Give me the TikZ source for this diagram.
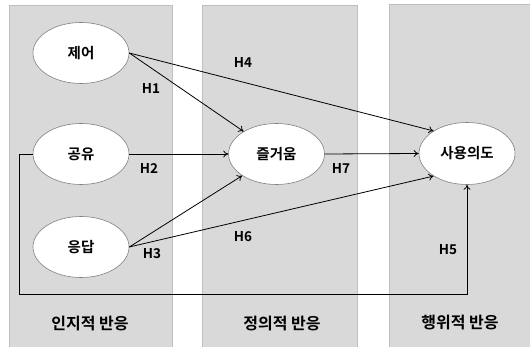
\documentclass[tikz,border=0pt]{standalone}
\usepackage{fontspec}
\setmainfont{Noto Sans CJK KR}[BoldFont={Noto Sans CJK KR Bold}]
\usetikzlibrary{shapes.geometric,arrows.meta}
\definecolor{panelfill}{HTML}{D9D9D9}
\definecolor{paneledge}{HTML}{BFBFBF}
\definecolor{elledge}{HTML}{808080}
\tikzset{
  panel/.style={fill=panelfill,draw=paneledge,line width=0.8pt},
  ell/.style={ellipse,draw=elledge,fill=white,line width=0.6pt,minimum width=96pt,minimum height=61pt,inner sep=0pt,font=\fontsize{14.5}{16}\selectfont\bfseries},
  hlab/.style={font=\fontsize{13.5}{15}\selectfont\bfseries,inner sep=0pt},
  blab/.style={font=\fontsize{16}{18}\selectfont\bfseries,inner sep=0pt},
  conn/.style={draw=black,line width=0.8pt,-{To[length=5pt,width=7pt]}}
}
\begin{document}
\begin{tikzpicture}[x=1pt,y=-1pt]
\useasboundingbox (0,0) rectangle (530,347);
% panels
\path[panel] (9,5) rectangle (172,350);
\path[panel] (202,5) rectangle (357,350);
\path[panel] (389,4) rectangle (533,350);
% ellipses
\node[ell] (jeo) at (81,53) {제어};
\node[ell] (gong) at (81,154) {공유};
\node[ell] (eung) at (81,247) {응답};
\node[ell] (jeul) at (276.5,154) {즐거움};
\node[ell,minimum height=62pt] (sa) at (467,153.5) {사용의도};
% connectors
\coordinate (c1) at (19,154);
\coordinate (c2) at (19,294);
\coordinate (c3) at (467,294);
\draw[conn] (jeo.east) -- (jeul);
\draw[conn] (jeo.east) -- (sa.146);
\draw[conn] (gong.east) -- (jeul.west);
\draw[conn] (eung.east) -- (jeul);
\draw[conn] (eung.east) -- (sa.214);
\draw[conn] (jeul.east) -- (sa.west);
\draw[conn] (gong.west) -- (c1) -- (c2) -- (c3) -- (sa.south);
% labels
\node[hlab] (h1) at (151,89) {H1};
\node[hlab] (h4) at (243,63) {H4};
\node[hlab] (h2) at (149,168) {H2};
\node[hlab] (h3) at (152,254) {H3};
\node[hlab] (h6) at (243,237) {H6};
\node[hlab] (h7) at (341,168) {H7};
\node[hlab] (h5) at (448,250) {H5};
\node[blab] (b1) at (90,324) {인지적 반응};
\node[blab] (b2) at (282,324) {정의적 반응};
\node[blab] (b3) at (460,323) {행위적 반응};
\end{tikzpicture}
\end{document}
